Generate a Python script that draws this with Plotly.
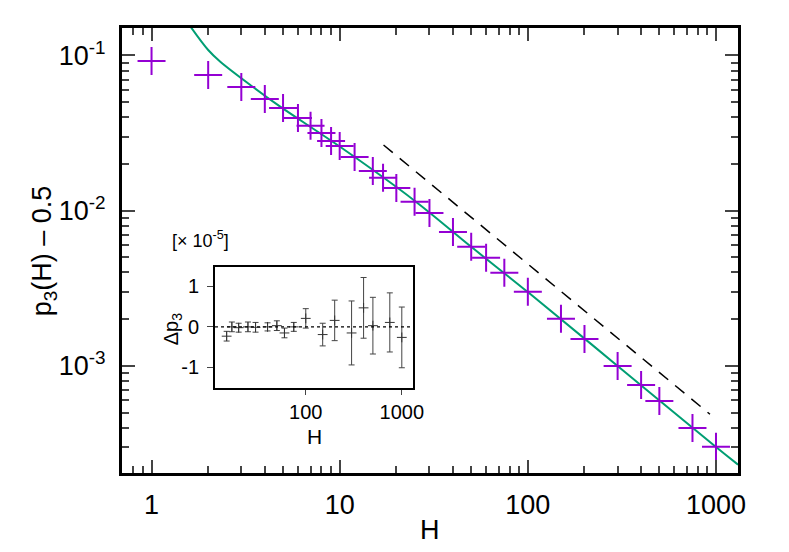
import plotly.graph_objects as go

# main data: p3(H) - 0.5
H = [1, 2, 3, 4, 5, 6, 7, 8, 9, 10, 12, 15, 17, 20, 25, 30, 40, 50, 60, 75,
     100, 150, 200, 300, 400, 500, 750, 1000]
p3 = [0.0922, 0.0748, 0.0626, 0.0524, 0.0459, 0.0396, 0.0352, 0.0317, 0.0281,
      0.0261, 0.0222, 0.0180, 0.0163, 0.0140, 0.0114, 0.00968, 0.00730,
      0.00585, 0.00497, 0.00398, 0.00300, 0.00201, 0.00149, 0.00100,
      0.000754, 0.000594, 0.000398, 0.000301]

# fitted curve
H_fit = [1.62, 2.0, 2.32, 3.48, 4.83, 10, 25, 50, 100, 300, 1000, 1310]
p_fit = [0.152, 0.1085, 0.0912, 0.0624, 0.0468, 0.0259, 0.0116, 0.00585,
         0.00299, 0.00100, 0.000300, 0.000231]

# dashed guide line
H_ref = [17.1, 929]
p_ref = [0.0265, 0.000488]

# inset: residuals [x 1e-5]
H_ins = [15, 17, 20, 25, 30, 40, 50, 60, 75, 100, 150, 200, 300, 400, 500, 750, 1000]
dp = [-0.23, 0.0, -0.02, 0.0, -0.01, 0.0, 0.03, -0.15, 0.0, 0.21, -0.19, 0.16,
      -0.15, 0.47, 0.03, 0.11, -0.26]
dp_err = [0.12, 0.12, 0.11, 0.12, 0.12, 0.10, 0.12, 0.12, 0.11, 0.24, 0.28,
          0.50, 0.79, 0.75, 0.70, 0.73, 0.75]

PURPLE = "#9400d3"
GREEN = "#009e73"
FONT = "Liberation Sans, Arial, sans-serif"

fig = go.Figure()
fig.add_trace(go.Scatter(x=H_fit, y=p_fit, mode="lines", line_shape="spline",
                         line=dict(color=GREEN, width=2), showlegend=False))
fig.add_trace(go.Scatter(x=H_ref, y=p_ref, mode="lines",
                         line=dict(color="black", width=1.5, dash="12px,9px"),
                         showlegend=False))
fig.add_trace(go.Scatter(x=H, y=p3, mode="markers", showlegend=False,
                         marker=dict(symbol="cross-thin", size=20,
                                     line=dict(width=2, color=PURPLE))))

fig.add_trace(go.Scatter(x=H_ins, y=dp, mode="markers", xaxis="x2", yaxis="y2",
                         showlegend=False,
                         marker=dict(symbol="cross-thin", size=7,
                                     line=dict(width=1, color="#333333")),
                         error_y=dict(type="data", array=dp_err, color="#444444",
                                      thickness=1, width=3)))

minor_x = [m * 10 ** e for e in range(-1, 4) for m in range(2, 10)]
minor_y = [m * 10.0 ** e for e in range(-4, 0) for m in range(2, 10)]

fig.update_layout(
    width=789, height=552,
    margin=dict(l=122, r=51, t=28, b=79),
    paper_bgcolor="white", plot_bgcolor="white",
    font=dict(family=FONT, color="black", size=27),
    xaxis=dict(type="log", range=[-0.157, 3.117], tickvals=[1, 10, 100, 1000],
               ticktext=["1", "10", "100", "1000"], ticks="inside", ticklen=13,
               tickwidth=2, showline=True, linewidth=3, linecolor="black",
               mirror="ticks", showgrid=False, zeroline=False, automargin=False,
               ticklabelstandoff=6,
               minor=dict(tickvals=minor_x, ticks="inside", ticklen=7,
                          tickwidth=1.5, showgrid=False)),
    yaxis=dict(type="log", range=[-3.69, -0.823], tickvals=[1e-3, 1e-2, 1e-1],
               ticktext=["10<sup>-3</sup>", "10<sup>-2</sup>", "10<sup>-1</sup>"],
               ticks="inside", ticklen=13, tickwidth=2, showline=True,
               linewidth=3, linecolor="black", mirror="ticks", showgrid=False,
               zeroline=False, automargin=False, ticklabelstandoff=8,
               minor=dict(tickvals=minor_y, ticks="inside", ticklen=7,
                          tickwidth=1.5, showgrid=False)),
    xaxis2=dict(type="log", range=[1.055, 3.114], domain=[0.151, 0.472],
                anchor="y2", tickvals=[100, 1000], ticktext=["100", "1000"],
                ticks="outside", ticklen=5, tickwidth=1, showline=True,
                linewidth=2, linecolor="black", mirror=True, showgrid=False,
                zeroline=False, automargin=False, tickfont=dict(size=20)),
    yaxis2=dict(range=[-1.51, 1.48], domain=[0.191, 0.463], anchor="x2",
                tickvals=[-1, 0, 1], ticktext=["-1", "0", "1"],
                ticks="outside", ticklen=6, tickwidth=1, showline=True,
                linewidth=2, linecolor="black", mirror=True, showgrid=False,
                zeroline=False, automargin=False, tickfont=dict(size=20),
                ticklabelstandoff=4),
    shapes=[dict(type="line", xref="x2 domain", yref="y2", x0=0, x1=1, y0=0, y1=0,
                 line=dict(color="black", width=1.2, dash="dot"))],
    annotations=[
        dict(text="H", xref="paper", yref="paper", x=0.5, y=-0.128,
             xanchor="center", yanchor="middle", showarrow=False,
             font=dict(size=27)),
        dict(text="p<sub>3</sub>(H) \u2013 0.5", xref="paper", yref="paper",
             x=-0.127, y=0.5, xanchor="center", yanchor="middle",
             textangle=-90, showarrow=False, font=dict(size=27)),
        dict(text="H", xref="paper", yref="paper", x=0.313, y=0.081,
             xanchor="center", yanchor="middle", showarrow=False,
             font=dict(size=21)),
        dict(text="\u0394p<sub>3</sub>", xref="paper", yref="paper",
             x=(172 - 122) / 616, y=0.323, xanchor="center", yanchor="middle",
             textangle=-90, showarrow=False, font=dict(size=20)),
        dict(text="[\u00d7 10<sup>-5</sup>]", xref="paper", yref="paper",
             x=0.128, y=0.524, xanchor="center", yanchor="middle",
             showarrow=False, font=dict(size=18)),
    ],
)

# drop the browser's default body margin so the figure sits at (0, 0)
fig.write_html("out.html", config={"displayModeBar": False},
               post_script="document.body.style.margin = '0';")
